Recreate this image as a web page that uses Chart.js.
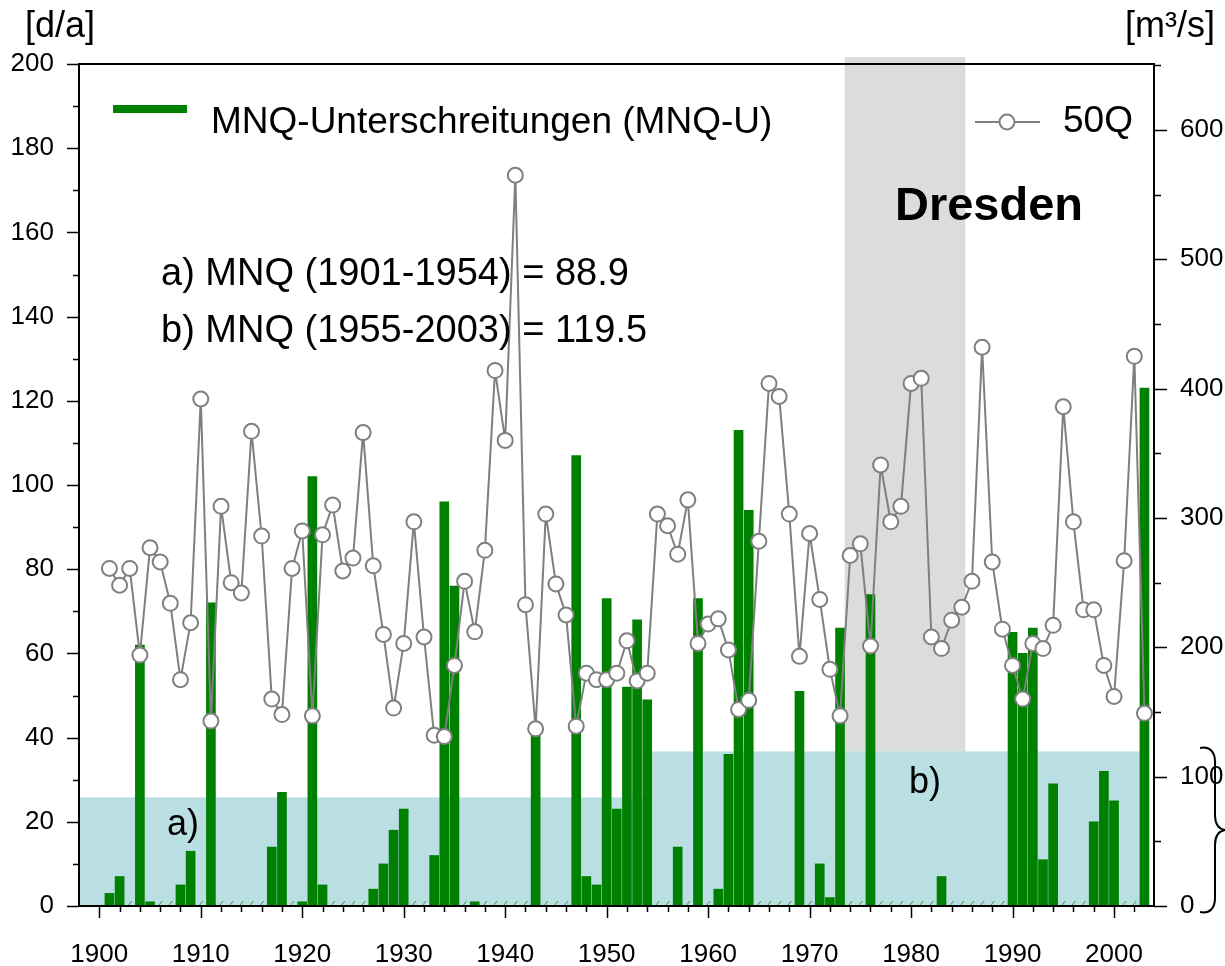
<!DOCTYPE html>
<html>
<head>
<meta charset="utf-8">
<title>MNQ-Unterschreitungen und 50Q - Dresden</title>
<script src="https://cdn.jsdelivr.net/npm/chart.js@4.4.0/dist/chart.umd.min.js"></script>
<style>
  html, body { margin: 0; padding: 0; background: #fff; }
  #wrap { width: 1225px; height: 966px; }
</style>
</head>
<body>
<div id="wrap"><canvas id="chartContainer" width="1225" height="966"></canvas></div>
<script>
"use strict";

// 1: data
// years of the series
const years = [
  1901, 1902, 1903, 1904, 1905, 1906, 1907, 1908, 1909, 1910,
  1911, 1912, 1913, 1914, 1915, 1916, 1917, 1918, 1919, 1920,
  1921, 1922, 1923, 1924, 1925, 1926, 1927, 1928, 1929, 1930,
  1931, 1932, 1933, 1934, 1935, 1936, 1937, 1938, 1939, 1940,
  1941, 1942, 1943, 1944, 1945, 1946, 1947, 1948, 1949, 1950,
  1951, 1952, 1953, 1954, 1955, 1956, 1957, 1958, 1959, 1960,
  1961, 1962, 1963, 1964, 1965, 1966, 1967, 1968, 1969, 1970,
  1971, 1972, 1973, 1974, 1975, 1976, 1977, 1978, 1979, 1980,
  1981, 1982, 1983, 1984, 1985, 1986, 1987, 1988, 1989, 1990,
  1991, 1992, 1993, 1994, 1995, 1996, 1997, 1998, 1999, 2000,
  2001, 2002, 2003
];

// MNQ-Unterschreitungen, days per year [d/a] (left axis)
const mnqU = [
  3, 7, 0, 62, 1, 0, 0, 5, 13, 0,
  72, 0, 0, 0, 0, 0, 14, 27, 0, 1,
  102, 5, 0, 0, 0, 0, 4, 10, 18, 23,
  0, 0, 12, 96, 76, 0, 1, 0, 0, 0,
  0, 0, 42, 0, 0, 0, 107, 7, 5, 73,
  23, 52, 68, 49, 0, 0, 14, 0, 73, 0,
  4, 36, 113, 94, 0, 0, 0, 0, 51, 0,
  10, 2, 66, 0, 0, 74, 0, 0, 0, 0,
  0, 0, 7, 0, 0, 0, 0, 0, 0, 65,
  60, 66, 11, 29, 0, 0, 0, 20, 32, 25,
  0, 0, 123
];

// 50Q discharge [m³/s] (right axis)
const q50 = [
  261, 248, 261, 194, 277, 266, 234, 175, 219, 392,
  143, 309, 250, 242, 367, 286, 160, 148, 261, 290,
  147, 287, 310, 259, 269, 366, 263, 210, 153, 203,
  297, 208, 132, 131, 186, 251, 212, 275, 414, 360,
  565, 233, 137, 303, 249, 225, 139, 180, 175, 175,
  180, 205, 174, 180, 303, 294, 272, 314, 203, 218,
  222, 198, 152, 159, 282, 404, 394, 303, 193, 288,
  237, 183, 147, 271, 280, 201, 341, 297, 309, 404,
  408, 208, 199, 221, 231, 251, 432, 266, 214, 186,
  160, 203, 199, 217, 386, 297, 229, 229, 186, 162,
  267, 425, 149
];

// tick labels
const xTicks = [1900, 1910, 1920, 1930, 1940, 1950, 1960, 1970, 1980, 1990, 2000];
const leftTicks = [0, 20, 40, 60, 80, 100, 120, 140, 160, 180, 200];
const rightTicks = [0, 100, 200, 300, 400, 500, 600];

// MNQ periods, drawn as light blue areas on the right axis
const periodLabels = ["a)", "b)"];
const periodStart = [1898, 1954.5];
const periodEnd = [1954.5, 2003];
const periodLevel = [84, 119.5];
const periodText = ["a) MNQ (1901-1954) = 88.9", "b) MNQ (1955-2003) = 119.5"];

// grey "Dresden" span
const dresdenFrom = 1973.45;
const dresdenTo = 1985.35;

const FONT = "'Liberation Sans', Arial, sans-serif";

// 2: extra drawing (bands, ticks, legend, texts)
const decor = {
  id: "decor",
  beforeDatasetsDraw(chart) {
    const { ctx, chartArea: a, scales } = chart;
    const x = scales.x, y1 = scales.y1;
    ctx.save();
    // grey band, sticks out a bit above the frame
    ctx.fillStyle = "#dcdcdc";
    const g0 = x.getPixelForValue(dresdenFrom);
    const g1 = x.getPixelForValue(dresdenTo);
    ctx.fillRect(g0, a.top - 7, g1 - g0, a.bottom - a.top + 7);
    // light blue MNQ areas
    ctx.fillStyle = "#b9dfe3";
    for (let i = 0; i < periodStart.length; i++) {
      const x0 = x.getPixelForValue(periodStart[i]);
      const x1 = x.getPixelForValue(periodEnd[i]);
      const top = y1.getPixelForValue(periodLevel[i]);
      ctx.fillRect(x0, top, x1 - x0, a.bottom - top);
    }
    ctx.restore();
  },
  afterDraw(chart) {
    const { ctx, chartArea: a, scales } = chart;
    const x = scales.x, y = scales.y, y1 = scales.y1;
    ctx.save();

    // small green marks for the years without undercut days
    ctx.strokeStyle = "#3a9a3a";
    ctx.lineWidth = 1;
    years.forEach((yr, i) => {
      if (mnqU[i] !== 0) return;
      const px = x.getPixelForValue(yr);
      ctx.beginPath();
      ctx.moveTo(px - 2, a.bottom);
      ctx.lineTo(px + 2, a.bottom - 5);
      ctx.stroke();
    });

    // frame
    ctx.strokeStyle = "#000";
    ctx.lineWidth = 2;
    ctx.strokeRect(a.left, a.top, a.right - a.left, a.bottom - a.top);

    // tick marks
    ctx.lineWidth = 1.5;
    ctx.beginPath();
    for (let yr = 1900; yr <= 2002; yr += 2) {
      const px = Math.round(x.getPixelForValue(yr)) + 0.5;
      const len = yr % 10 === 0 ? 12 : 6;
      ctx.moveTo(px, a.bottom);
      ctx.lineTo(px, a.bottom + len);
    }
    for (let v = 0; v <= 200; v += 10) {
      const py = Math.round(y.getPixelForValue(v)) + 0.5;
      const len = v % 20 === 0 ? 12 : 6;
      ctx.moveTo(a.left - len, py);
      ctx.lineTo(a.left, py);
    }
    for (let v = 0; v <= y1.max; v += 50) {
      const py = Math.round(y1.getPixelForValue(v)) + 0.5;
      const len = v % 100 === 0 ? 13 : 7;
      ctx.moveTo(a.right, py);
      ctx.lineTo(a.right + len, py);
    }
    ctx.stroke();

    ctx.fillStyle = "#000";
    ctx.textBaseline = "alphabetic";
    ctx.textAlign = "left";

    // unit labels
    ctx.font = "36px " + FONT;
    ctx.fillText("[d/a]", 25, 37);
    ctx.fillText("[m³/s]", 1125, 37);

    // legend: bars
    ctx.fillStyle = "#008000";
    ctx.fillRect(113, 105, 74, 8);
    ctx.fillStyle = "#000";
    ctx.font = "37px " + FONT;
    ctx.fillText(chart.data.datasets[1].label, 211, 133);

    // legend: line
    ctx.strokeStyle = "#808080";
    ctx.lineWidth = 2;
    ctx.beginPath();
    ctx.moveTo(975, 122);
    ctx.lineTo(1040, 122);
    ctx.stroke();
    ctx.beginPath();
    ctx.arc(1007, 122, 7.5, 0, Math.PI * 2);
    ctx.fillStyle = "#fff";
    ctx.fill();
    ctx.stroke();
    ctx.fillStyle = "#000";
    ctx.fillText(chart.data.datasets[0].label, 1063, 132);

    // station name
    ctx.font = "bold 47px " + FONT;
    ctx.fillText("Dresden", 895, 220);

    // MNQ texts
    ctx.font = "38px " + FONT;
    ctx.fillText(periodText[0], 161, 285);
    ctx.fillText(periodText[1], 161, 342);
    ctx.font = "36px " + FONT;
    ctx.fillText(periodLabels[0], 167, 835);
    ctx.fillText(periodLabels[1], 909, 793);

    // brace next to the right axis
    ctx.strokeStyle = "#000";
    ctx.lineWidth = 2;
    ctx.beginPath();
    ctx.moveTo(1200, 748);
    ctx.bezierCurveTo(1210, 746, 1215, 752, 1215, 762);
    ctx.lineTo(1215, 815);
    ctx.bezierCurveTo(1215, 825, 1219, 829, 1225, 830);
    ctx.bezierCurveTo(1219, 831, 1215, 835, 1215, 845);
    ctx.lineTo(1215, 898);
    ctx.bezierCurveTo(1215, 908, 1210, 914, 1200, 912);
    ctx.stroke();

    ctx.restore();
  }
};

// 3: create the chart
function appendChart() {
  const chartContainer = document.getElementById("chartContainer");
  const tickFont = { family: FONT, size: 26 };
  return new Chart(chartContainer, {
    type: "bar",
    data: {
      datasets: [{
        type: "line",
        label: "50Q",
        data: years.map((yr, i) => ({ x: yr, y: q50[i] })),
        yAxisID: "y1",
        borderColor: "#7f7f7f",
        borderWidth: 2,
        pointRadius: 7.5,
        pointBorderWidth: 2,
        pointBackgroundColor: "#ffffff",
        pointBorderColor: "#7f7f7f",
        tension: 0,
        order: 1,
        clip: false
      }, {
        type: "bar",
        label: "MNQ-Unterschreitungen (MNQ-U)",
        data: years.map((yr, i) => ({ x: yr, y: mnqU[i] })),
        yAxisID: "y",
        backgroundColor: "#008000",
        barThickness: 9,
        order: 2
      }]
    },
    options: {
      responsive: false,
      animation: false,
      devicePixelRatio: 1,
      layout: { padding: { top: 64, left: 0, right: 0, bottom: 0 } },
      plugins: { legend: { display: false }, tooltip: { enabled: false } },
      scales: {
        x: {
          type: "linear",
          offset: false,
          min: 1898,
          max: 2003.94,
          grid: { display: false, drawTicks: false },
          border: { display: false },
          afterBuildTicks: (s) => { s.ticks = xTicks.map((v) => ({ value: v })); },
          afterFit: (s) => { s.height = 60; },
          ticks: {
            font: tickFont, color: "#000", padding: 33,
            maxRotation: 0, autoSkip: false,
            callback: (v) => String(v)
          }
        },
        y: {
          position: "left",
          min: 0,
          max: 200,
          grid: { display: false, drawTicks: false },
          border: { display: false },
          afterBuildTicks: (s) => { s.ticks = leftTicks.map((v) => ({ value: v })); },
          afterFit: (s) => { s.width = 79; },
          ticks: { font: tickFont, color: "#000", padding: 25, callback: (v) => String(v) }
        },
        y1: {
          position: "right",
          min: 0,
          max: 651,
          grid: { display: false, drawTicks: false },
          border: { display: false },
          afterBuildTicks: (s) => { s.ticks = rightTicks.map((v) => ({ value: v })); },
          afterFit: (s) => { s.width = 71; },
          ticks: { font: tickFont, color: "#000", padding: 26, callback: (v) => String(v) }
        }
      }
    },
    plugins: [decor]
  });
}

appendChart();
</script>
</body>
</html>
